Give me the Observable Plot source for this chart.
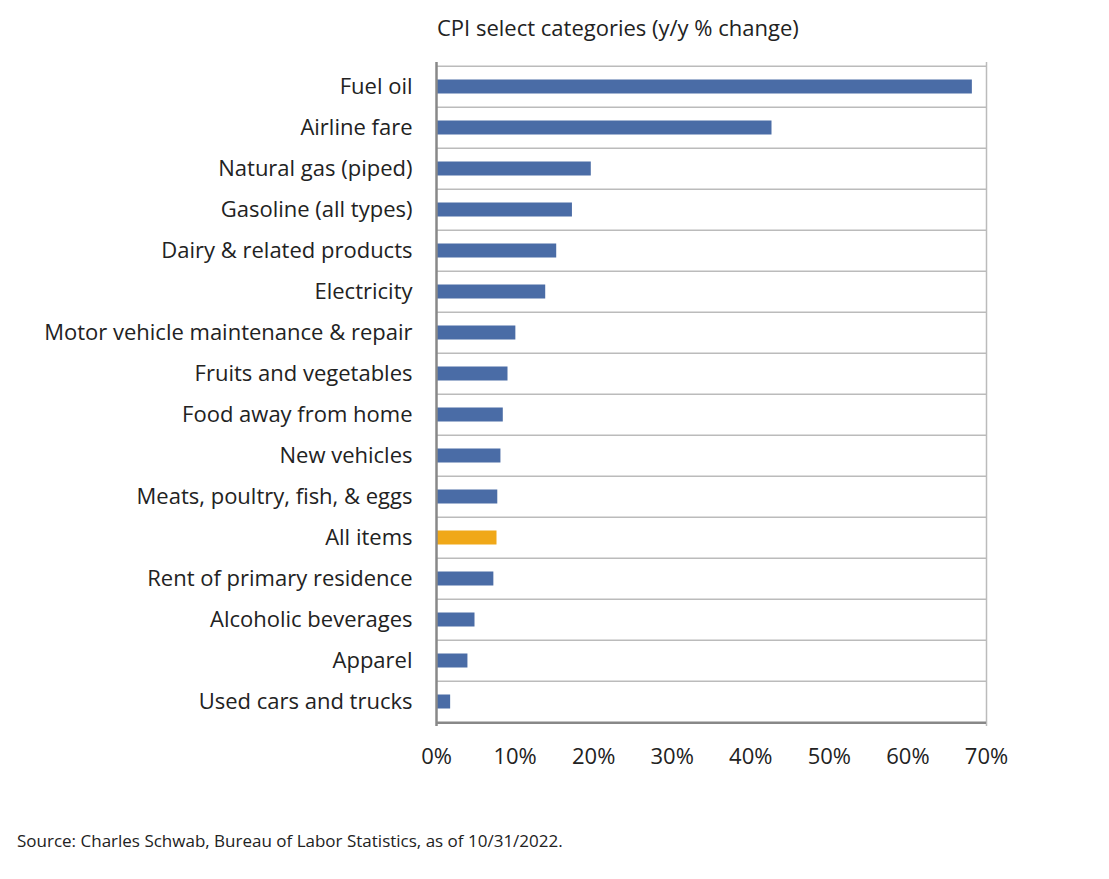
<!DOCTYPE html>
<html>
<head>
<meta charset="utf-8">
<script src="https://cdn.jsdelivr.net/npm/d3@7"></script>
<script src="https://cdn.jsdelivr.net/npm/@observablehq/plot@0.6"></script>
<style>
  body { margin: 0; background: #fff; font-family: "Open Sans", Roboto, sans-serif; }
  #title { position: absolute; left: 437px; top: 12px; font-size: 22px; color: #222; }
  #chart { position: absolute; left: 0; top: 50px; }
  #source { position: absolute; left: 17px; top: 829px; font-size: 17px; color: #222; }
</style>
</head>
<body>
<div id="title">CPI select categories (y/y % change)</div>
<div id="chart"></div>
<div id="source">Source: Charles Schwab, Bureau of Labor Statistics, as of 10/31/2022.</div>
<script>
const categories = [
  "Fuel oil", "Airline fare", "Natural gas (piped)", "Gasoline (all types)",
  "Dairy & related products", "Electricity", "Motor vehicle maintenance & repair",
  "Fruits and vegetables", "Food away from home", "New vehicles",
  "Meats, poultry, fish, & eggs", "All items", "Rent of primary residence",
  "Alcoholic beverages", "Apparel", "Used cars and trucks"
];
const values = [68.2, 42.7, 19.7, 17.3, 15.3, 13.9, 10.1, 9.1, 8.5, 8.2, 7.8, 7.7, 7.3, 4.9, 4.0, 1.8];
const xTicks = [0, 10, 20, 30, 40, 50, 60, 70];

const data = categories.map((c, i) => ({category: c, value: values[i]}));
const step = 664 / categories.length;

const chart = Plot.plot({
  width: 1109,
  height: 726,
  marginTop: 12,
  marginBottom: 50,
  marginLeft: 436,
  marginRight: 123,
  style: {fontSize: "22px", fontFamily: "'Open Sans', Roboto, sans-serif", color: "#222"},
  x: {domain: [0, 70], label: null},
  y: {domain: categories, padding: 0, label: null},
  marks: [
    Plot.ruleY(categories, {y: d => d, dy: -step / 2, stroke: "#bbb", strokeWidth: 1.5}),
    Plot.ruleX([70], {stroke: "#bbb", strokeWidth: 1.5}),
    Plot.barX(data, {
      x: "value",
      y: "category",
      insetTop: 13.5,
      insetBottom: 13.5,
      fill: d => d.category === "All items" ? "#f0a818" : "#4a6ca6"
    }),
    Plot.ruleX([0], {stroke: "#888", strokeWidth: 2.5}),
    Plot.ruleY([categories[categories.length - 1]], {dy: step / 2, stroke: "#888", strokeWidth: 2.5}),
    Plot.axisX({ticks: xTicks, tickFormat: d => d + "%", tickSize: 0, tickPadding: 22, label: null}),
    Plot.axisY({tickSize: 0, tickPadding: 24, label: null})
  ]
});
document.getElementById("chart").append(chart);
</script>
</body>
</html>
